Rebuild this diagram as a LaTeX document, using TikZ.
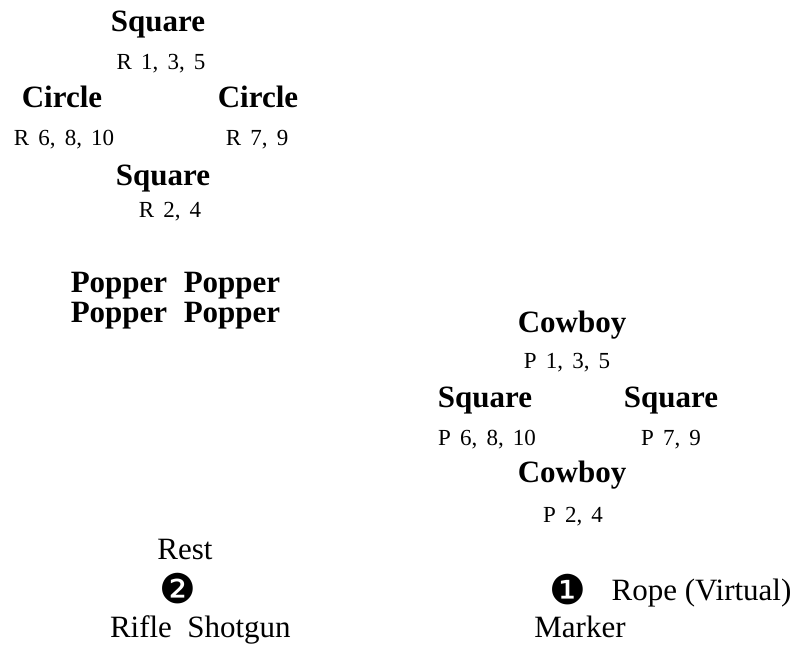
\documentclass[tikz,border=0pt]{standalone}
\usepackage{fontspec}
\setmainfont{Liberation Serif}
\newfontfamily\labfont[WordSpace=1.6]{Liberation Serif}
\newfontfamily\dingfont{DejaVu Sans}
\begin{document}
\begin{tikzpicture}[x=1pt,y=-1pt,
  every node/.style={inner sep=0pt,outer sep=0pt,anchor=base},
  head/.style={font=\fontsize{31}{31}\selectfont\bfseries},
  lab/.style={font=\labfont\fontsize{23}{23}\selectfont},
  txt/.style={font=\fontsize{31}{31}\selectfont},
  ding/.style={font=\dingfont\fontsize{41}{41}\selectfont,anchor=center}]
\useasboundingbox (0,0) rectangle (799,647);
% top-left group
\node[head] (sq1) at (158,32) {Square};
\node[lab] (r135) at (161,70) {R 1, 3, 5};
\node[head] (c1) at (62,108) {Circle};
\node[head] (c2) at (258,108) {Circle};
\node[lab] (r6) at (64,146) {R 6, 8, 10};
\node[lab] (r79) at (257,146) {R 7, 9};
\node[head] (sq2) at (163,185) {Square};
\node[lab] (r24) at (170,217) {R 2, 4};
% poppers
\node[head] (pop1) at (119,292) {Popper};
\node[head] (pop2) at (232,292) {Popper};
\node[head] (pop3) at (119,322) {Popper};
\node[head] (pop4) at (232,322) {Popper};
% right group
\node[head] (cow1) at (572,332) {Cowboy};
\node[lab] (p135) at (567,368) {P 1, 3, 5};
\node[head] (sqL) at (485,407) {Square};
\node[head] (sqR) at (671,407) {Square};
\node[lab] (p6) at (487,445) {P 6, 8, 10};
\node[lab] (p79) at (671,445) {P 7, 9};
\node[head] (cow2) at (572,482) {Cowboy};
\node[lab] (p24) at (573,522) {P 2, 4};
% bottom
\node[txt] (rest) at (185,559) {Rest};
\node[ding] (two) at (178,589) {❷};
\node[ding] (one) at (568,590) {❶};
\node[txt] (rope) at (701.5,600) {Rope (Virtual)};
\node[txt] (rifle) at (141,637) {Rifle};
\node[txt] (shotgun) at (239,637) {Shotgun};
\node[txt] (marker) at (580,637) {Marker};
\end{tikzpicture}
\end{document}
